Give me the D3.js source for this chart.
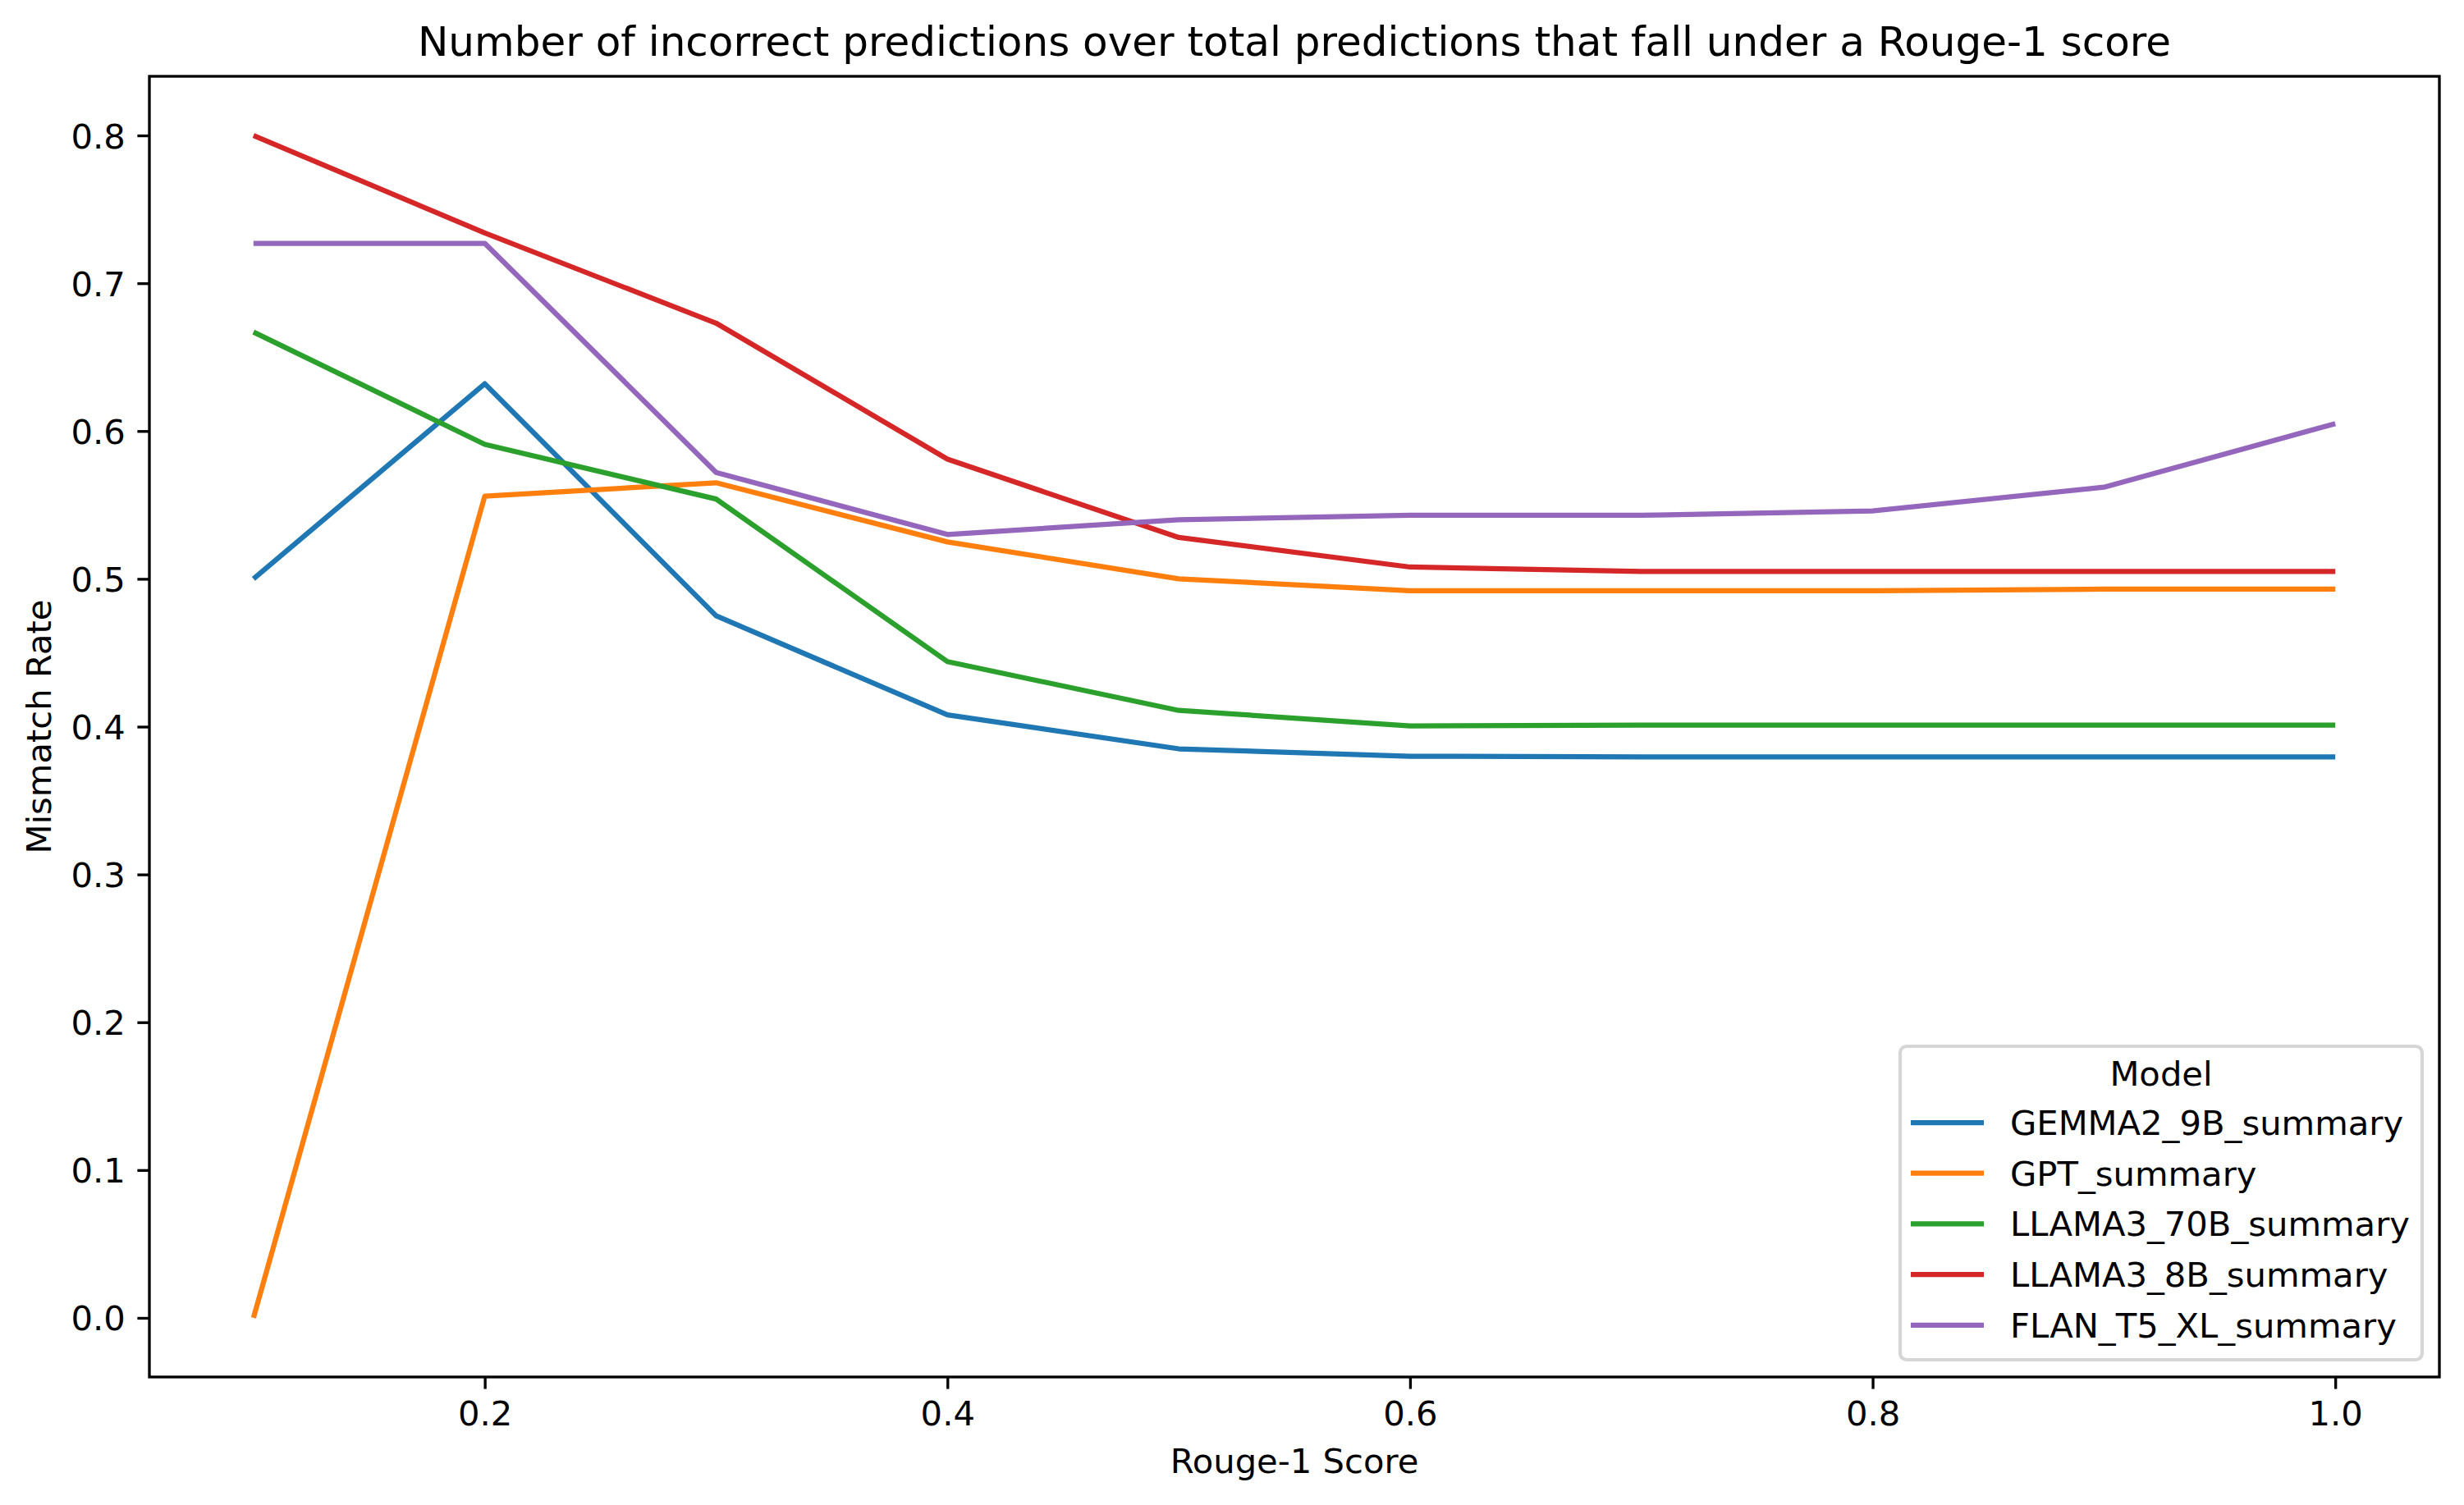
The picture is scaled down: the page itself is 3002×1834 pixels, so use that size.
<!DOCTYPE html>
<html>
<head>
<meta charset="utf-8">
<script src="https://cdn.jsdelivr.net/npm/d3@7"></script>
<style>
  body { margin: 0; background: #fff; }
  text { font-family: "DejaVu Sans", sans-serif; fill: #000; }
</style>
</head>
<body>
<div id="chart"></div>
<script>
// rouge-1 thresholds on the x axis
var scores = [0.1, 0.2, 0.3, 0.4, 0.5, 0.6, 0.7, 0.8, 0.9, 1.0];

// mismatch rate per model
var gemma2_9b  = [0.500, 0.632, 0.475, 0.408, 0.385, 0.380, 0.3795, 0.3795, 0.3795, 0.3795];
var gpt        = [0.000, 0.556, 0.565, 0.525, 0.500, 0.492, 0.492, 0.492, 0.493, 0.493];
var llama3_70b = [0.667, 0.591, 0.554, 0.444, 0.411, 0.4005, 0.401, 0.401, 0.401, 0.401];
var llama3_8b  = [0.800, 0.734, 0.673, 0.581, 0.528, 0.508, 0.505, 0.505, 0.505, 0.505];
var flan_t5_xl = [0.727, 0.727, 0.572, 0.530, 0.540, 0.543, 0.543, 0.546, 0.562, 0.605];

var modelNames = ["GEMMA2_9B_summary", "GPT_summary", "LLAMA3_70B_summary", "LLAMA3_8B_summary", "FLAN_T5_XL_summary"];
var modelColors = ["#1f77b4", "#ff7f0e", "#2ca02c", "#d62728", "#9467bd"];

var xTicks = [0.2, 0.4, 0.6, 0.8, 1.0];
var yTicks = [0.0, 0.1, 0.2, 0.3, 0.4, 0.5, 0.6, 0.7, 0.8];

var chartTitle = "Number of incorrect predictions over total predictions that fall under a Rouge-1 score";
var xTitle = "Rouge-1 Score";
var yTitle = "Mismatch Rate";
var legendTitle = "Model";

var series = [gemma2_9b, gpt, llama3_70b, llama3_8b, flan_t5_xl].map(function (vals, i) {
  return { name: modelNames[i], color: modelColors[i],
           points: vals.map(function (v, j) { return { x: scores[j], y: v }; }) };
});

var W = 3002, H = 1834;
// plot area (window.top is reserved, so no plain "top")
var plotL = 182, plotR = 2972, plotT = 93, plotB = 1678;
var fs = 41.7; // 10pt at 300 dpi

var svg = d3.select("#chart").append("svg")
  .attr("width", W).attr("height", H);

var x = d3.scaleLinear().domain([0.055, 1.045]).range([plotL, plotR]);
var y = d3.scaleLinear().domain([-0.04, 0.84]).range([plotB, plotT]);

// lines first, frame on top like matplotlib
var line = d3.line().x(function (d) { return x(d.x); }).y(function (d) { return y(d.y); });

svg.append("g").selectAll("path")
  .data(series)
  .enter()
  .append("path")
  .attr("d", function (d) { return line(d.points); })
  .style("fill", "none")
  .style("stroke", function (d) { return d.color; })
  .style("stroke-width", 6.25)
  .style("stroke-linejoin", "round")
  .style("stroke-linecap", "butt");

// x axis
var xAxis = svg.append("g")
  .attr("transform", "translate(0," + plotB + ")")
  .call(d3.axisBottom(x).tickValues(xTicks).tickFormat(d3.format(".1f"))
    .tickSize(14.6).tickSizeOuter(0).tickPadding(14.8));
xAxis.select(".domain").remove();
xAxis.selectAll("line").style("stroke", "#000").style("stroke-width", 3.33);
xAxis.selectAll("text").style("font-size", fs + "px").style("font-family", "DejaVu Sans").attr("fill", "#000");

// y axis
var yAxis = svg.append("g")
  .attr("transform", "translate(" + plotL + ",0)")
  .call(d3.axisLeft(y).tickValues(yTicks).tickFormat(d3.format(".1f"))
    .tickSize(14.6).tickSizeOuter(0).tickPadding(14.6));
yAxis.select(".domain").remove();
yAxis.selectAll("line").style("stroke", "#000").style("stroke-width", 3.33);
yAxis.selectAll("text").style("font-size", fs + "px").style("font-family", "DejaVu Sans")
  .attr("fill", "#000").attr("dy", "0.36em");

// axes frame
svg.append("rect")
  .attr("x", plotL).attr("y", plotT)
  .attr("width", plotR - plotL).attr("height", plotB - plotT)
  .style("fill", "none").style("stroke", "#000").style("stroke-width", 3.33);

// titles
svg.append("text")
  .attr("x", (plotL + plotR) / 2).attr("y", 68)
  .style("text-anchor", "middle").style("font-size", "50px")
  .text(chartTitle);

svg.append("text")
  .attr("x", (plotL + plotR) / 2).attr("y", 1795)
  .style("text-anchor", "middle").style("font-size", fs + "px")
  .text(xTitle);

svg.append("text")
  .attr("transform", "translate(62," + ((plotT + plotB) / 2) + ") rotate(-90)")
  .style("text-anchor", "middle").style("font-size", fs + "px")
  .text(yTitle);

// legend, lower right
var lg = svg.append("g");
lg.append("rect")
  .attr("x", 2315).attr("y", 1275)
  .attr("width", 2951 - 2315).attr("height", 1657 - 1275)
  .attr("rx", 8).attr("ry", 8)
  .style("fill", "#fff").style("fill-opacity", 0.8)
  .style("stroke", "#d6d6d6").style("stroke-width", 4.2);

lg.append("text")
  .attr("x", 2633).attr("y", 1323)
  .style("text-anchor", "middle").style("font-size", fs + "px")
  .text(legendTitle);

var item = lg.selectAll("g.item")
  .data(series)
  .enter()
  .append("g")
  .attr("class", "item")
  .attr("transform", function (d, i) { return "translate(0," + (1383 + i * 61.7) + ")"; });

item.append("line")
  .attr("x1", 2328).attr("x2", 2417)
  .attr("y1", -15).attr("y2", -15)
  .style("stroke", function (d) { return d.color; })
  .style("stroke-width", 6.25);

item.append("text")
  .attr("x", 2449).attr("y", 0)
  .style("font-size", fs + "px")
  .text(function (d) { return d.name; });
</script>
</body>
</html>
